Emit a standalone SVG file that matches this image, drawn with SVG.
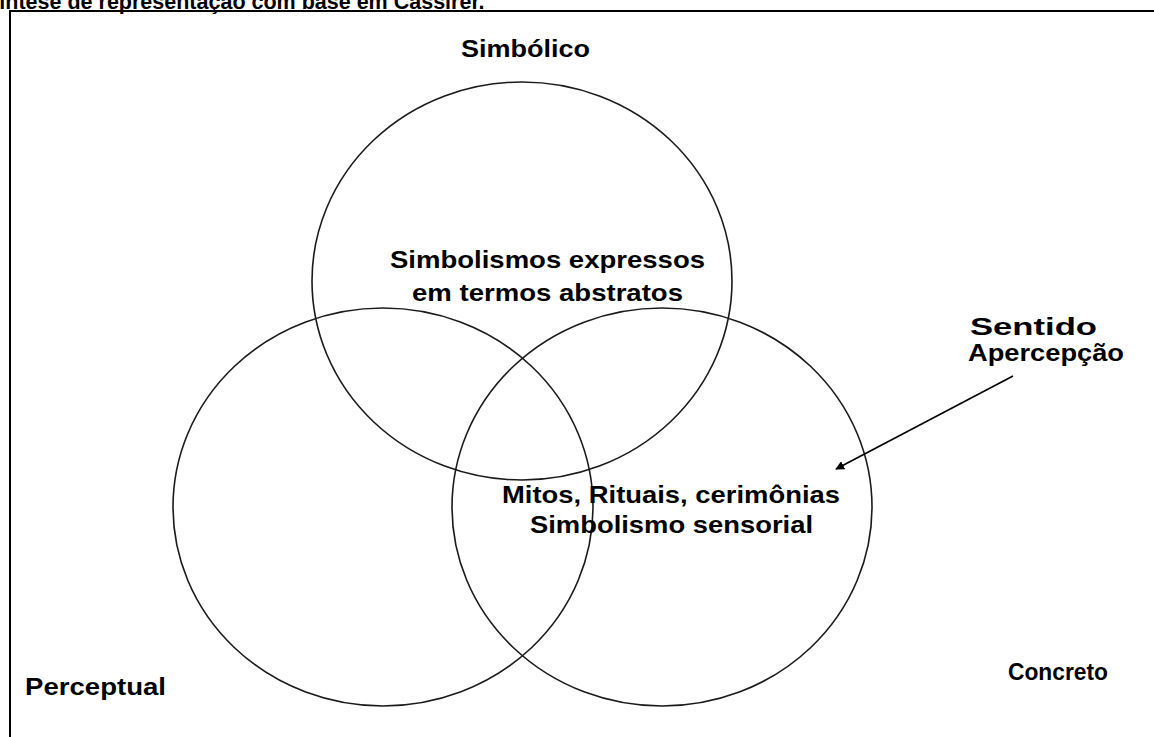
<svg xmlns="http://www.w3.org/2000/svg" width="1154" height="737" viewBox="0 0 1154 737">
<style>
.t{font-family:"Liberation Sans",Arial,sans-serif;font-weight:bold;font-size:24px;fill:#000}
.c{fill:none;stroke:#1a1a1a;stroke-width:1.6}
</style>
<defs>
<marker id="ah" viewBox="0 0 10 10" refX="9" refY="5" markerWidth="9" markerHeight="9" orient="auto" markerUnits="userSpaceOnUse">
<path d="M0,0 L10,5 L0,10 z" fill="#000"/>
</marker>
</defs>
<rect width="1154" height="737" fill="#fff"/>
<text x="-15" y="9" font-family="Liberation Sans, Arial, sans-serif" font-weight="bold" font-size="21.5">Síntese de representação com base em Cassirer.</text>
<path d="M10,1000 L10,11 L1200,11" fill="none" stroke="#000" stroke-width="2"/>
<g id="simbolico">
<ellipse class="c" cx="522" cy="281" rx="210" ry="199"/>
<text class="t" x="461" y="57" textLength="129" lengthAdjust="spacingAndGlyphs">Simbólico</text>
<text class="t" x="390" y="268" textLength="315" lengthAdjust="spacingAndGlyphs">Simbolismos expressos</text>
<text class="t" x="412" y="301" textLength="271" lengthAdjust="spacingAndGlyphs">em termos abstratos</text>
</g>
<g id="perceptual">
<ellipse class="c" cx="383" cy="507" rx="210" ry="199"/>
<text class="t" x="25" y="695" textLength="141" lengthAdjust="spacingAndGlyphs">Perceptual</text>
</g>
<g id="concreto">
<ellipse class="c" cx="662" cy="507" rx="210" ry="199"/>
<text class="t" x="1008" y="680" textLength="100" lengthAdjust="spacingAndGlyphs">Concreto</text>
<text class="t" x="502" y="503" textLength="338" lengthAdjust="spacingAndGlyphs">Mitos, Rituais, cerimônias</text>
<text class="t" x="530" y="533" textLength="283" lengthAdjust="spacingAndGlyphs">Simbolismo sensorial</text>
</g>
<g id="sentido">
<text class="t" x="970" y="335" textLength="127" lengthAdjust="spacingAndGlyphs">Sentido</text>
<text class="t" x="968" y="361" textLength="156" lengthAdjust="spacingAndGlyphs">Apercepção</text>
</g>
<g id="connectors">
<line x1="1013" y1="376" x2="836" y2="469" stroke="#000" stroke-width="1.6" marker-end="url(#ah)"/>
</g>
</svg>
